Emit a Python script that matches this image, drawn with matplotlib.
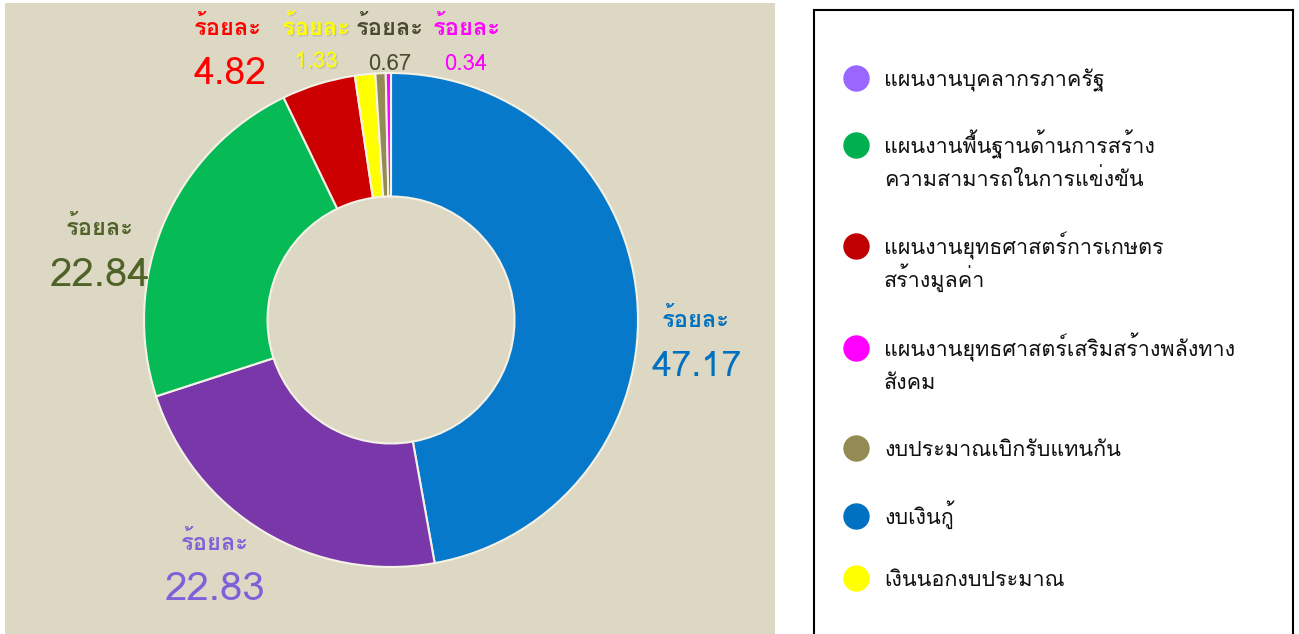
import matplotlib
matplotlib.use("Agg")
import matplotlib.pyplot as plt
import matplotlib.patheffects as pe
from matplotlib import font_manager
from matplotlib.ft2font import FT2Font
from matplotlib.patches import Rectangle

# look for any installed font that has Thai glyphs
thai_font = None
for f in font_manager.fontManager.ttflist:
    try:
        if 0x0E23 in FT2Font(f.fname).get_charmap():
            thai_font = f.name
            break
    except Exception:
        pass
fams = [thai_font, 'DejaVu Sans'] if thai_font else ['DejaVu Sans']
plt.rcParams['font.family'] = fams

# slices, clockwise from 12 o'clock
slice_names = ['งบเงินกู้', 'แผนงานบุคลากรภาครัฐ', 'แผนงานพื้นฐานด้านการสร้าง\nความสามารถในการแข่งขัน',
               'แผนงานยุทธศาสตร์การเกษตร\nสร้างมูลค่า', 'เงินนอกงบประมาณ',
               'งบประมาณเบิกรับแทนกัน', 'แผนงานยุทธศาสตร์เสริมสร้างพลังทาง\nสังคม']
percent = [47.17, 22.83, 22.84, 4.82, 1.33, 0.67, 0.34]
slice_colors = ['#0779CB', '#7A37AA', '#06BB55', '#CC0000', '#FFFF00', '#948B54', '#FF00FF']
label_colors = ['#0070C0', '#8060D8', '#4F6228', '#FF0000', '#FFFF00', '#4A4A30', '#FF00FF']

# legend order as shown on the right
legend_names = ['แผนงานบุคลากรภาครัฐ', 'แผนงานพื้นฐานด้านการสร้าง\nความสามารถในการแข่งขัน',
                'แผนงานยุทธศาสตร์การเกษตร\nสร้างมูลค่า', 'แผนงานยุทธศาสตร์เสริมสร้างพลังทาง\nสังคม',
                'งบประมาณเบิกรับแทนกัน', 'งบเงินกู้', 'เงินนอกงบประมาณ']
legend_colors = ['#9966FF', '#00B050', '#C00000', '#FF00FF', '#948B54', '#0070C0', '#FFFF00']

W, H = 1299, 634
fig = plt.figure(figsize=(W / 100, H / 100), dpi=100)
fig.patch.set_facecolor('white')
fig.patches.append(Rectangle((5 / W, 0), 770 / W, 631 / H, transform=fig.transFigure,
                             facecolor='#DDD8C3', edgecolor='none', zorder=-1))

# donut
cx, cy, r = 391, 314, 247
ax = fig.add_axes([(cx - r) / W, (cy - r) / H, 2 * r / W, 2 * r / H])
ax.pie(percent, colors=slice_colors, startangle=90, counterclock=False, radius=1,
       wedgeprops=dict(width=0.5, edgecolor='#F4F1E6', linewidth=1.5))
ax.set_xlim(-1, 1)
ax.set_ylim(-1, 1)
ax.set_aspect('equal')
ax.axis('off')

# label positions in pixels (word x, word y, number x, number y, number size)
label_pos = [(696, 320, 697, 367, 26), (215, 543, 215, 590, 29), (100, 228, 100, 276, 29),
             (228, 28, 230, 75, 27), (316, 28, 316, 62, 16), (390, 28, 390, 64, 16),
             (467, 28, 466, 64, 16)]
for i, (xw, yw, xn, yn, fs) in enumerate(label_pos):
    c = label_colors[i]
    t1 = fig.text(xw / W, 1 - yw / H, 'ร้อยละ', color=c, fontsize=17, fontweight='bold',
                  ha='center', va='center')
    t2 = fig.text(xn / W, 1 - yn / H, f'{percent[i]:.2f}', color=c, fontsize=fs,
                  ha='center', va='center')
    if i == 4:
        fx = pe.withSimplePatchShadow(offset=(1, -1), shadow_rgbFace='#888888')
        t1.set_path_effects([fx])
        t2.set_path_effects([fx])

# legend panel
lax = fig.add_axes([814 / W, -6 / H, 479 / W, 630 / H])
lax.set_xlim(814, 1293)
lax.set_ylim(640, 10)
lax.set_xticks([])
lax.set_yticks([])
for s in lax.spines.values():
    s.set_linewidth(1.5)
    s.set_color('black')

leg_y = [78, 145, 246, 348, 448, 516, 578]
for name, col, y in zip(legend_names, legend_colors, leg_y):
    lax.plot(856, y, 'o', color=col, markersize=18)
    for k, line in enumerate(name.split('\n')):
        lax.text(884, y + 8 + 33 * k, line, fontsize=15.5, va='baseline', ha='left', color='#111111')

fig.savefig('out.png', dpi=100)
